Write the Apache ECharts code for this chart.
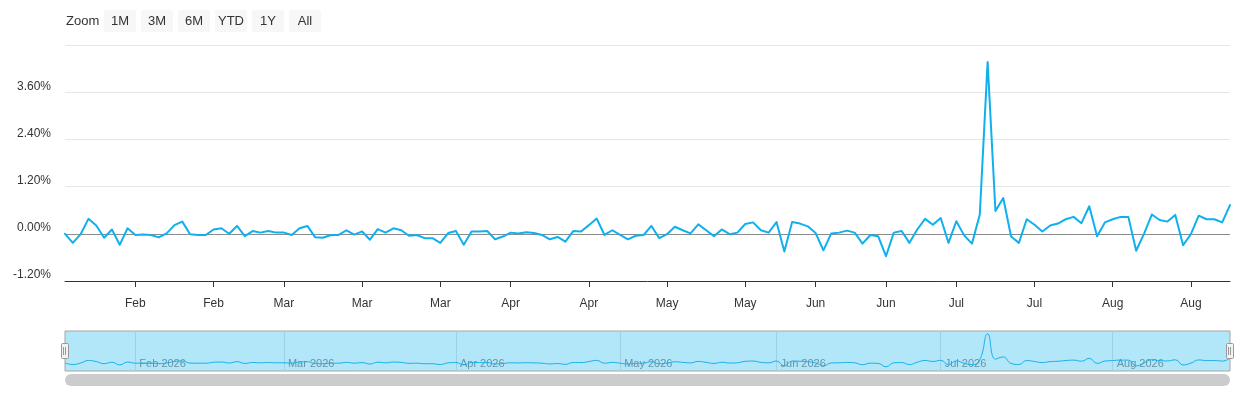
<!DOCTYPE html>
<html>
<head>
<meta charset="utf-8">
<script src="https://cdn.jsdelivr.net/npm/echarts@6/dist/echarts.min.js"></script>
<style>
html,body{margin:0;padding:0;background:#fff;}
#chart{width:1240px;height:400px;}
</style>
</head>
<body>
<div id="chart"></div>
<script>
// ---- data ----
const startDate = '2026-01-20';
const endDate = '2026-08-24';
const marketHolidays = ['2026-02-16', '2026-04-03', '2026-05-25', '2026-06-19', '2026-07-03'];
const axisTickDates = ['2026-02-02', '2026-02-17', '2026-03-02', '2026-03-16', '2026-03-30', '2026-04-13',
  '2026-04-27', '2026-05-11', '2026-05-26', '2026-06-08', '2026-06-22', '2026-07-06', '2026-07-20',
  '2026-08-03', '2026-08-17'];
const navigatorMonthDates = ['2026-02-02', '2026-03-02', '2026-04-01', '2026-05-01', '2026-06-01', '2026-07-01', '2026-08-03'];
const monthNames = ['Jan', 'Feb', 'Mar', 'Apr', 'May', 'Jun', 'Jul', 'Aug', 'Sep', 'Oct', 'Nov', 'Dec'];
const yTicks = [-1.2, 0, 1.2, 2.4, 3.6, 4.8];
const zoomButtons = ['1M', '3M', '6M', 'YTD', '1Y', 'All'];
const dailyChange = [
  0.00, -0.23, -0.01, 0.38, 0.21, -0.10, 0.11, -0.28, 0.14, -0.03,
  -0.02, -0.03, -0.09, 0.01, 0.22, 0.31, -0.01, -0.03, -0.03, 0.11,
  0.14, 0.00, 0.20, -0.06, 0.07, 0.03, 0.07, 0.03, 0.03, -0.03,
  0.14, 0.20, -0.09, -0.10, -0.03, -0.03, 0.09, -0.02, 0.06, -0.15,
  0.12, 0.03, 0.14, 0.09, -0.05, -0.03, -0.11, -0.11, -0.23, 0.02,
  0.07, -0.28, 0.06, 0.06, 0.07, -0.14, -0.07, 0.03, 0.01, 0.04,
  0.02, -0.03, -0.14, -0.08, -0.20, 0.07, 0.06, 0.22, 0.39, -0.03,
  0.09, -0.03, -0.14, -0.05, -0.03, 0.20, -0.11, -0.01, 0.18, 0.09,
  0.01, 0.24, 0.09, -0.06, 0.11, -0.01, 0.03, 0.25, 0.29, 0.09,
  0.03, 0.30, -0.45, 0.30, 0.26, 0.19, 0.02, -0.42, 0.01, 0.03,
  0.08, 0.03, -0.25, -0.03, -0.06, -0.57, 0.03, 0.07, -0.23, 0.11,
  0.38, 0.23, 0.40, -0.23, 0.32, -0.04, -0.25, 0.49, 4.37, 0.58,
  0.91, -0.07, -0.23, 0.37, 0.23, 0.06, 0.21, 0.26, 0.37, 0.43,
  0.27, 0.70, -0.06, 0.29, 0.37, 0.43, 0.43, -0.43, 0.00, 0.49,
  0.35, 0.31, 0.48, -0.29, -0.01, 0.46, 0.37, 0.37, 0.29, 0.73
];

// trading-day categories (weekdays minus market holidays)
function tradingDays(start, end, holidays) {
  const out = [];
  const d = new Date(start + 'T00:00:00Z');
  const e = new Date(end + 'T00:00:00Z');
  while (d <= e) {
    const wd = d.getUTCDay();
    const s = d.toISOString().slice(0, 10);
    if (wd !== 0 && wd !== 6 && holidays.indexOf(s) < 0) out.push(s);
    d.setUTCDate(d.getUTCDate() + 1);
  }
  return out;
}
const categories = tradingDays(startDate, endDate, marketHolidays);

const FONT = '"Liberation Sans", Arial, Helvetica, sans-serif';
const isTick = (i, v) => axisTickDates.indexOf(v) >= 0;
const isNavMonth = (i, v) => navigatorMonthDates.indexOf(v) >= 0;
const monthOf = v => monthNames[parseInt(v.slice(5, 7), 10) - 1];

// decorations: range selector buttons, navigator handles, scrollbar
const graphics = [
  { type: 'text', silent: true, style: { text: 'Zoom', x: 66, y: 21, verticalAlign: 'middle', font: '13px ' + FONT, fill: '#333333' } }
];
zoomButtons.forEach((b, i) => {
  const x = 104 + 37 * i;
  graphics.push({ type: 'rect', shape: { x: x, y: 10, width: 32, height: 22, r: 2 }, style: { fill: '#f7f7f7' } });
  graphics.push({ type: 'text', silent: true, style: { text: b, x: x + 16, y: 21, align: 'center', verticalAlign: 'middle', font: '13px ' + FONT, fill: '#333333' } });
});
graphics.push({ type: 'rect', shape: { x: 65, y: 374, width: 1165, height: 12, r: 6 }, style: { fill: '#cccccc' } });
[65, 1230].forEach(cx => {
  graphics.push({ type: 'rect', z: 110, shape: { x: cx - 3.5, y: 343.5, width: 7, height: 15, r: 1 }, style: { fill: '#f2f2f2', stroke: '#999999', lineWidth: 1 } });
  graphics.push({ type: 'line', z: 111, shape: { x1: cx - 1.5, y1: 347, x2: cx - 1.5, y2: 355 }, style: { stroke: '#999999', lineWidth: 1 } });
  graphics.push({ type: 'line', z: 111, shape: { x1: cx + 0.5, y1: 347, x2: cx + 0.5, y2: 355 }, style: { stroke: '#999999', lineWidth: 1 } });
});

const chart = echarts.init(document.getElementById('chart'), null, { renderer: 'canvas' });
chart.setOption({
  animation: false,
  backgroundColor: '#ffffff',
  textStyle: { fontFamily: FONT },
  tooltip: { trigger: 'axis', valueFormatter: v => v.toFixed(2) + '%' },
  grid: [
    { left: 65, right: 10, top: 45, height: 236, outerBoundsMode: 'none' },
    { left: 65, right: 10, top: 331, height: 40, show: true, backgroundColor: 'rgba(0,174,239,0.3)', borderColor: '#a6a6a6', borderWidth: 1, outerBoundsMode: 'none' }
  ],
  xAxis: [
    {
      type: 'category', gridIndex: 0, data: categories, boundaryGap: false,
      axisLine: { onZero: false, lineStyle: { color: '#333333', width: 1 } },
      axisTick: { interval: isTick, length: 6, lineStyle: { color: '#333333' } },
      axisLabel: { interval: isTick, formatter: v => monthOf(v), color: '#333333', fontSize: 12, margin: 17, fontFamily: FONT },
      splitLine: { show: false }
    },
    {
      type: 'category', gridIndex: 1, data: categories, boundaryGap: false,
      axisLine: { show: false, onZero: false }, axisTick: { show: false },
      axisLabel: { inside: true, interval: isNavMonth, formatter: v => monthOf(v) + ' ' + v.slice(0, 4), color: '#6b92a3', fontSize: 11, margin: 2, align: 'left', padding: [0, 0, 0, 4], fontFamily: FONT },
      splitLine: { show: true, interval: isNavMonth, lineStyle: { color: '#9fd0e4', width: 1 } }
    }
  ],
  yAxis: [
    {
      type: 'value', gridIndex: 0, min: yTicks[0], max: yTicks[yTicks.length - 1], interval: 1.2,
      axisLine: { show: false }, axisTick: { show: false },
      axisLabel: { formatter: v => v.toFixed(2) + '%', color: '#333333', fontSize: 12, margin: 14, verticalAlign: 'bottom', showMaxLabel: false, fontFamily: FONT },
      splitLine: { lineStyle: { color: ['#e6e6e6', '#8c8c8c', '#e6e6e6', '#e6e6e6', '#e6e6e6', '#e6e6e6'], width: 1 } }
    },
    {
      type: 'value', gridIndex: 1, min: yTicks[0], max: yTicks[yTicks.length - 1],
      show: false, splitLine: { show: false }
    }
  ],
  series: [
    {
      name: 'Change', type: 'line', xAxisIndex: 0, yAxisIndex: 0, data: dailyChange,
      symbol: 'none', showSymbol: false,
      lineStyle: { color: '#0fb0ed', width: 2, join: 'round', cap: 'round' },
      itemStyle: { color: '#0fb0ed' }
    },
    {
      name: 'Navigator', type: 'line', xAxisIndex: 1, yAxisIndex: 1, data: dailyChange,
      symbol: 'none', showSymbol: false, smooth: true, silent: true,
      lineStyle: { color: '#1aafe8', width: 1 },
      tooltip: { show: false }
    }
  ],
  graphic: graphics
});
</script>
</body>
</html>
